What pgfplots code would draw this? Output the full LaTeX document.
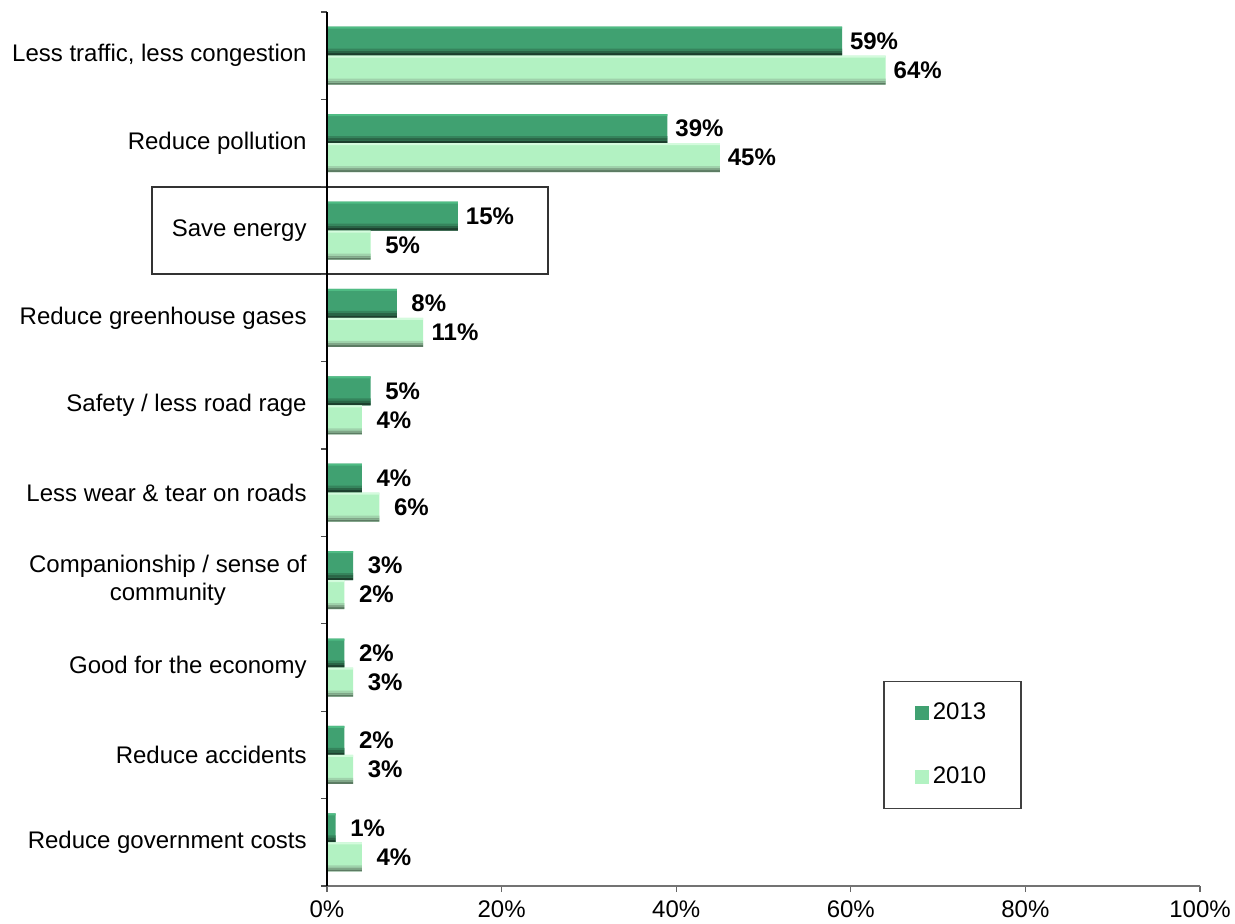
\documentclass[border=0pt]{standalone}
\usepackage{fontspec}
\setmainfont{Liberation Sans}
\usepackage{pgfplots}
\pgfplotsset{compat=1.18}
\definecolor{dkA}{HTML}{1C3F2D}
\definecolor{dkB}{HTML}{2A6446}
\definecolor{dkC}{HTML}{35845C}
\definecolor{dkmid}{HTML}{40A171}
\definecolor{dktop}{HTML}{4FBC84}
\definecolor{ltA}{HTML}{5C7B63}
\definecolor{ltB}{HTML}{80A688}
\definecolor{ltC}{HTML}{9FD2AB}
\definecolor{ltmid}{HTML}{B2F2C2}
\definecolor{lttop}{HTML}{D4FBDD}
\pgfplotstableread{
y a b
0 1 4
1 2 3
2 2 3
3 3 2
4 4 6
5 5 4
6 8 11
7 15 5
8 39 45
9 59 64
}\data
\begin{document}
\fontsize{12}{14}\selectfont
\begin{tikzpicture}
\path[use as bounding box] (-163.5pt,-18.5pt) rectangle (454pt,443pt);
\begin{axis}[
  at={(0,0)}, anchor=south west,
  scale only axis, width=436.5pt, height=437pt,
  xbar,
  xmin=0, xmax=100, ymin=-0.5, ymax=9.5,
  clip=false, axis on top,
  axis lines*=left,
  x axis line style={black!55, line width=0.8pt},
  y axis line style={black, line width=1pt},
  xtick={0,20,40,60,80,100},
  xticklabels={0\%,20\%,40\%,60\%,80\%,100\%},
  ytick={0,...,9},
  yticklabels={Reduce government costs, Reduce accidents, Good for the economy, Companionship / sense of\\community, Less wear \& tear on roads, Safety / less road rage, Reduce greenhouse gases, Save energy, Reduce pollution, {Less traffic, less congestion}},
  minor ytick={-0.5,0.5,...,9.5},
  tick align=outside,
  major tick length=3pt, minor tick length=3pt,
  major y tick style={draw=none},
  minor y tick style={black!70, line width=0.6pt},
  major x tick style={black!60, line width=0.6pt},
  tick label style={font=\fontsize{12}{14}\selectfont},
  yticklabel style={align=center, xshift=-3pt},
  xticklabel style={yshift=0pt},
  /pgf/number format/assume math mode=true,
  legend style={at={(0.637,0.088)}, anchor=south west, draw=black!75, line width=0.8pt,
    inner xsep=15.5pt, inner ysep=8.75pt, row sep=17.5pt, cells={anchor=west},
    font=\fontsize{12}{14}\selectfont},
  legend image code/.code={\fill[#1] (0pt,-3.5pt) rectangle (7pt,3.5pt);},
  lbl/.style={nodes near coords={\pgfmathprintnumber{\pgfplotspointmeta}\%},
    nodes near coords style={font=\bfseries\fontsize{12}{14}\selectfont, anchor=center, xshift=16pt, text=black}},
]
\addlegendimage{fill=dkmid, draw=none}
\addlegendimage{fill=ltmid, draw=none}
% 2013
\addplot[fill=dkmid, draw=none, bar width=14.5pt, bar shift=7.25pt, forget plot, lbl] table[x=a, y=y] {\data};
\addplot[fill=dkA, draw=none, bar width=1.25pt, bar shift=0.625pt, forget plot] table[x=a, y=y] {\data};
\addplot[fill=dkB, draw=none, bar width=1.25pt, bar shift=1.875pt, forget plot] table[x=a, y=y] {\data};
\addplot[fill=dkC, draw=none, bar width=1pt, bar shift=3pt, forget plot] table[x=a, y=y] {\data};
\addplot[fill=dktop, draw=none, bar width=1pt, bar shift=14pt, forget plot] table[x=a, y=y] {\data};
% 2010
\addplot[fill=ltmid, draw=none, bar width=14.5pt, bar shift=-7.25pt, forget plot, lbl] table[x=b, y=y] {\data};
\addplot[fill=ltA, draw=none, bar width=1pt, bar shift=-14pt, forget plot] table[x=b, y=y] {\data};
\addplot[fill=ltB, draw=none, bar width=1pt, bar shift=-13pt, forget plot] table[x=b, y=y] {\data};
\addplot[fill=ltC, draw=none, bar width=1pt, bar shift=-12pt, forget plot] table[x=b, y=y] {\data};
\addplot[fill=lttop, draw=none, bar width=1pt, bar shift=-0.5pt, forget plot] table[x=b, y=y] {\data};
\legend{2013,2010}
\draw[black!80, line width=0.8pt] (axis cs:-20.05,6.5) rectangle (axis cs:25.3,7.5);
\end{axis}
\end{tikzpicture}
\end{document}
